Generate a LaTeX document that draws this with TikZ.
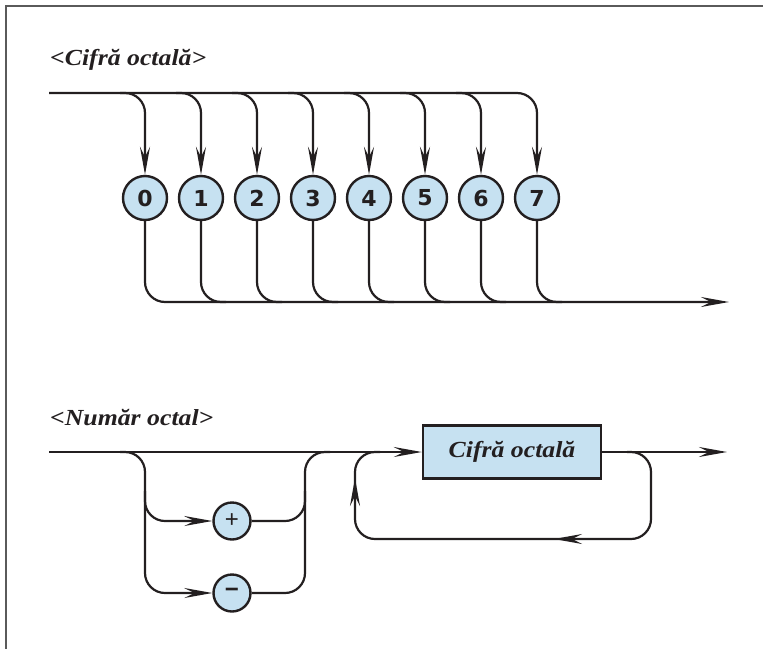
\documentclass[tikz,border=0pt]{standalone}
\usepackage{fontspec}
\setmainfont{Liberation Serif}
\newfontfamily\titlefont[FakeStretch=1.12]{Liberation Serif}
\newfontfamily\digsans{DejaVu Sans}
\newfontfamily\signfont{Liberation Sans}
\usetikzlibrary{arrows.meta,calc}
\definecolor{ink}{HTML}{231F20}
\definecolor{lblue}{HTML}{C6E1F1}
\definecolor{framegray}{HTML}{5A5A5A}
\begin{document}
\begin{tikzpicture}[x=1pt,y=-1pt,
  conn/.style={color=ink, line width=2.2pt},
  arr/.style={-{Stealth[length=28pt,width=10pt,inset=10pt]}},
  rc/.style={rounded corners=20pt},
  digit/.style={circle, draw=ink, fill=lblue, line width=2.4pt, minimum size=44pt, inner sep=0pt, text=ink, font=\digsans\bfseries\fontsize{22}{24}\selectfont},
  sign/.style={circle, draw=ink, fill=lblue, line width=2.4pt, minimum size=37pt, inner sep=0pt, text=ink, font=\signfont\fontsize{24}{26}\selectfont},
  box/.style={rectangle, draw=ink, fill=lblue, line width=2.4pt, minimum width=178pt, minimum height=53pt, inner sep=0pt, text=ink, font=\titlefont\bfseries\itshape\fontsize{23}{27}\selectfont},
  title/.style={anchor=base west, inner sep=0pt, text=ink, font=\titlefont\bfseries\itshape\fontsize{23}{27}\selectfont}]
\useasboundingbox (0,0) rectangle (763,648);
\draw[framegray, line width=1.3pt] (6,650) -- (6,6) -- (765,6);

% ---- Cifra octala ----
\node[title] (t1) at (50,65) {<Cifră octală>};
\coordinate (s1) at (49,93);
\coordinate (e1) at (729,302);
\foreach \d/\x in {0/145,1/201,2/257,3/313,4/369,5/425,6/481,7/537}{
  \node[digit] (c\d) at (\x,198) {\d};
}
\draw[conn, arr, rc] (s1) -| (c7.north);
\draw[conn, arr, rc] (c0.south) |- (e1);
\foreach \d in {0,...,6}{
  \draw[conn, arr, rc] ($(c\d.north |- s1)+(-25,0)$) -| (c\d.north);
}
\foreach \d in {1,...,7}{
  \draw[conn, rc] (c\d.south) |- ($(c\d.south |- e1)+(25,0)$);
}

% ---- Numar octal ----
\node[title] (t2) at (50,425) {<Număr octal>};
\coordinate (s2) at (49,452);
\coordinate (e2) at (727,452);
\node[box] (box) at (512,452) {Cifră octală};
\node[sign] (p) at (232,521) {+};
\node[sign] (m) at (232,593) {\bfseries −};
\coordinate (bx) at (145,452);
\coordinate (jx) at (305,452);
\coordinate (lx) at (355,539);
\coordinate (rx) at (651,539);
\coordinate (la) at (584,539);
\coordinate (lat) at (554,539);
\coordinate (ua) at (355,506);
\coordinate (uat) at (355,478);

\draw[conn, arr] (s2) -- (box.west);
\draw[conn, arr, rc] ($(bx)+(-25,0)$) -| (bx |- p) -- (p.west);
\draw[conn, arr, rc] ($(bx |- p)+(0,-30)$) |- (m.west);
\draw[conn, rc] (p.east) -| (jx) -- ++(25,0);
\draw[conn, rc] (m.east) -| ($(jx |- p)+(0,-30)$);
\draw[conn, arr] (box.east) -- (e2);
\draw[conn, rc] ($(box.east)+(25,0)$) -| (rx) -| (lx |- s2) -- ++(25,0);
\draw[conn, arr] (la) -- (lat);
\draw[conn, arr] (ua) -- (uat);
\end{tikzpicture}
\end{document}
